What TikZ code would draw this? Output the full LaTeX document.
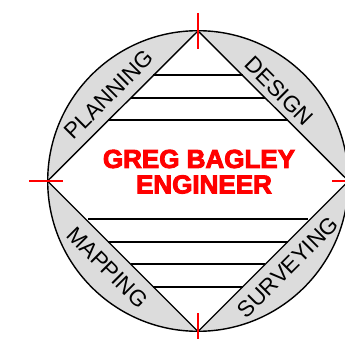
\documentclass[tikz,border=0pt]{standalone}
\usepackage{fontspec}
\setmainfont{Liberation Sans}
\newfontfamily\titlefont[FakeBold=3.5]{Liberation Sans Bold}
\definecolor{seg}{HTML}{DCDCDC}
\tikzset{
  outline/.style={draw=black,line width=1.4pt},
  rung/.style={draw=black,line width=1.6pt},
  tick/.style={draw=red,line width=1.1pt},
  seglabel/.style={inner sep=0pt,font=\fontsize{22.5}{22.5}\selectfont,text=black},
  title/.style={inner sep=0pt,text=red,font=\titlefont\fontsize{26}{26}\selectfont}
}
\begin{document}
\begin{tikzpicture}[x=1pt,y=-1pt]
\useasboundingbox (0,0) rectangle (345,339);
\clip (0,0) rectangle (345,339);
\coordinate (c) at (198,181);
\coordinate (t) at (198,31);
\coordinate (b) at (198,331.5);
\coordinate (l) at (47.5,181);
\coordinate (r) at (348.5,181);
\fill[seg] (c) circle[radius=150.3pt];
\filldraw[fill=white,outline] (t) -- (r) -- (b) -- (l) -- cycle;
\draw[outline] (c) circle[radius=150.3pt];
\foreach \y/\h in {75/45,98/67,120/90,219/110,242/90,264/67,287/45}{
  \draw[rung] (198-\h,\y) -- (198+\h,\y);
}
\draw[tick] (198,13) -- (198,49);
\draw[tick] (198,313) -- (198,339);
\draw[tick] (29,181) -- (63,181);
\draw[tick] (332,181) -- (345,181);
\node[seglabel,rotate=45] (planning) at (109,94.5) {PLANNING};
\node[seglabel,rotate=-45] (design) at (279,91) {DESIGN};
\node[seglabel,rotate=-45] (mapping) at (107.5,267.5) {MAPPING};
\node[seglabel,rotate=45] (surveying) at (288,267) {SURVEYING};
\node[title] (name) at (199,159) {GREG BAGLEY};
\node[title] (role) at (204,184.5) {ENGINEER};
\end{tikzpicture}
\end{document}
